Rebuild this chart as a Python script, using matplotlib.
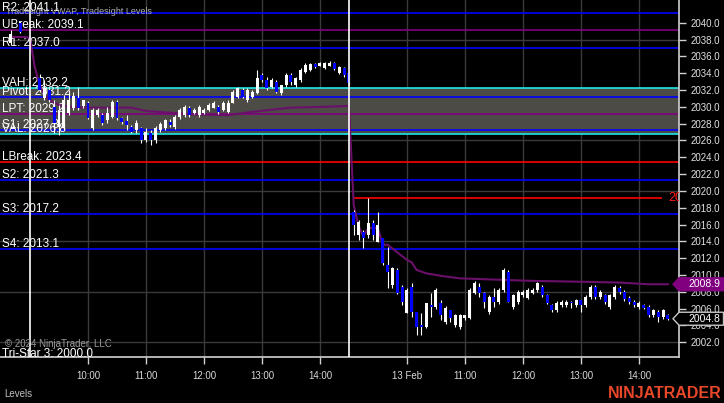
import matplotlib
matplotlib.use("Agg")
import matplotlib.pyplot as plt
import matplotlib.transforms as mtransforms
from matplotlib.patches import Polygon

plt.rcParams['font.family'] = ['Liberation Sans', 'DejaVu Sans']

# ---------------- data (5-minute bars, x = bar index) ----------------
day1_index = [2, 4] + list(range(8, 73))
day1_open = [2037.6, 2040.0,
             2033.4, 2031.0, 2032.0, 2030.0, 2027.6, 2027.6, 2029.3, 2029.9, 2031.0, 2030.1,
             2030.5, 2027.5, 2029.0, 2029.0, 2028.4, 2028.8, 2030.6, 2028.7, 2028.3, 2027.6,
             2027.2, 2027.5, 2026.0, 2026.9, 2026.0, 2027.2, 2027.5, 2028.2, 2027.6, 2028.8,
             2029.0, 2029.9, 2029.3, 2029.0, 2029.3, 2029.6, 2029.9, 2030.0, 2029.6, 2029.4,
             2030.5, 2031.2, 2032.0, 2030.8, 2031.2, 2031.6, 2033.8, 2033.2, 2032.4, 2033.0,
             2031.6, 2032.6, 2033.8, 2032.6, 2033.2, 2034.1, 2034.4, 2035.1, 2034.9, 2034.6,
             2034.9, 2035.2, 2034.0, 2034.6, 2034.0]
day1_high = [2039.1, 2040.2,
             2033.9, 2033.2, 2032.2, 2030.8, 2030.2, 2031.4, 2032.0, 2031.8, 2032.4, 2030.8,
             2030.7, 2029.9, 2029.8, 2029.3, 2030.0, 2030.8, 2030.8, 2028.8, 2029.0, 2027.8,
             2028.4, 2027.6, 2027.5, 2027.2, 2027.7, 2028.2, 2028.6, 2028.5, 2029.0, 2029.9,
             2030.2, 2030.1, 2029.9, 2030.2, 2029.8, 2030.4, 2030.7, 2030.2, 2030.7, 2030.8,
             2032.0, 2032.4, 2032.2, 2032.2, 2032.0, 2034.4, 2034.0, 2033.5, 2033.4, 2033.2,
             2032.6, 2034.0, 2034.0, 2033.6, 2034.6, 2035.2, 2035.2, 2035.2, 2035.3, 2035.3,
             2035.4, 2035.3, 2034.8, 2034.7, 2034.1]
day1_low = [2037.3, 2038.8,
            2031.8, 2030.8, 2030.6, 2026.9, 2026.6, 2027.2, 2029.0, 2029.6, 2029.6, 2029.9,
            2028.5, 2027.2, 2028.8, 2027.8, 2028.1, 2028.7, 2028.4, 2028.0, 2027.2, 2026.9,
            2026.9, 2025.7, 2025.8, 2025.5, 2025.7, 2027.0, 2027.3, 2027.6, 2027.4, 2028.6,
            2028.8, 2028.8, 2029.1, 2028.8, 2029.2, 2029.5, 2029.8, 2029.2, 2029.5, 2029.3,
            2030.4, 2031.0, 2031.0, 2030.6, 2031.0, 2031.5, 2033.0, 2032.0, 2032.2, 2031.6,
            2031.4, 2032.4, 2032.6, 2032.4, 2033.0, 2034.0, 2034.2, 2034.6, 2034.8, 2034.5,
            2034.8, 2034.4, 2033.9, 2033.6, 2032.6]
day1_close = [2038.6, 2038.9,
              2032.0, 2032.2, 2030.8, 2028.1, 2029.6, 2030.8, 2030.8, 2031.3, 2029.9, 2030.8,
              2028.7, 2029.6, 2029.6, 2028.1, 2029.3, 2030.6, 2028.7, 2028.2, 2027.8, 2027.0,
              2028.1, 2026.0, 2027.0, 2026.0, 2027.5, 2027.9, 2028.4, 2027.8, 2028.8, 2029.6,
              2030.0, 2029.0, 2029.6, 2030.0, 2029.6, 2030.2, 2030.5, 2029.4, 2030.5, 2030.5,
              2031.8, 2032.2, 2031.2, 2032.0, 2031.8, 2033.4, 2033.2, 2032.2, 2033.2, 2031.8,
              2032.6, 2033.8, 2033.0, 2033.4, 2034.4, 2035.0, 2035.1, 2034.7, 2035.2, 2035.2,
              2035.2, 2034.5, 2034.7, 2033.8, 2032.8]

day2_index = list(range(73, 139))
day2_open = [2017.5, 2014.8, 2015.1, 2014.8, 2016.2, 2013.9, 2014.4, 2011.2, 2008.8, 2010.6,
             2008.6, 2005.5, 2008.6, 2005.6, 2004.1, 2003.8, 2006.4, 2006.2, 2006.7, 2004.4,
             2005.8, 2004.1, 2003.8, 2004.9, 2004.9, 2007.9, 2008.6, 2007.9, 2005.6, 2007.4,
             2006.8, 2008.2, 2010.4, 2006.2, 2006.8, 2007.6, 2007.3, 2007.9, 2008.2, 2008.6,
             2007.6, 2006.4, 2005.8, 2006.4, 2006.4, 2006.8, 2006.4, 2007.0, 2006.4, 2007.4,
             2008.6, 2007.4, 2007.6, 2006.2, 2007.4, 2008.5, 2008.0, 2007.3, 2006.8, 2006.2,
             2006.4, 2006.2, 2005.2, 2005.6, 2005.0, 2005.2]
day2_high = [2017.7, 2016.5, 2015.4, 2019.1, 2016.5, 2017.5, 2014.4, 2013.3, 2011.0, 2010.8,
             2008.8, 2008.5, 2009.0, 2005.6, 2005.5, 2006.7, 2007.9, 2008.4, 2007.0, 2006.3,
             2005.8, 2005.4, 2005.4, 2005.3, 2008.4, 2009.3, 2009.0, 2008.0, 2007.6, 2008.5,
             2008.4, 2010.8, 2010.6, 2007.8, 2008.2, 2008.2, 2008.4, 2008.4, 2009.2, 2008.8,
             2007.8, 2006.6, 2006.9, 2007.0, 2007.0, 2006.9, 2007.2, 2007.0, 2007.6, 2008.8,
             2008.8, 2008.2, 2007.8, 2007.8, 2008.8, 2008.7, 2008.2, 2007.5, 2007.0, 2006.9,
             2006.6, 2006.4, 2006.0, 2005.8, 2006.0, 2005.4]
day2_low = [2014.8, 2014.2, 2013.2, 2014.4, 2014.2, 2013.9, 2011.2, 2008.5, 2008.5, 2007.7,
            2006.4, 2005.5, 2005.0, 2002.9, 2002.9, 2003.7, 2005.0, 2006.0, 2004.6, 2004.2,
            2004.4, 2003.8, 2003.6, 2004.6, 2004.8, 2007.7, 2007.4, 2006.1, 2005.4, 2006.2,
            2006.6, 2008.0, 2006.8, 2006.0, 2006.6, 2007.4, 2007.1, 2007.7, 2008.0, 2007.4,
            2006.5, 2005.6, 2005.6, 2006.2, 2006.2, 2006.1, 2006.2, 2005.6, 2006.2, 2007.2,
            2007.2, 2007.2, 2006.6, 2006.0, 2007.2, 2007.8, 2006.9, 2006.6, 2006.2, 2006.0,
            2005.9, 2005.0, 2005.0, 2004.4, 2004.8, 2004.6]
day2_close = [2016.0, 2016.3, 2014.4, 2016.2, 2014.8, 2016.0, 2011.4, 2010.4, 2010.8, 2007.9,
              2006.8, 2008.2, 2005.6, 2003.8, 2003.8, 2006.7, 2006.2, 2008.2, 2005.2, 2006.1,
              2004.9, 2005.2, 2005.2, 2005.2, 2008.2, 2009.0, 2007.9, 2006.8, 2007.4, 2006.8,
              2008.2, 2010.6, 2006.8, 2007.6, 2008.0, 2008.0, 2008.2, 2008.2, 2009.0, 2007.6,
              2006.7, 2005.8, 2006.7, 2006.8, 2006.8, 2006.7, 2007.0, 2006.4, 2007.4, 2008.6,
              2007.4, 2008.0, 2006.8, 2007.6, 2008.6, 2008.0, 2007.1, 2006.8, 2006.4, 2006.7,
              2006.1, 2005.2, 2005.8, 2005.0, 2005.8, 2004.8]

vwap_index = [2, 5, 6, 7, 8, 9, 10, 12, 14, 18, 27, 30, 35, 40, 47, 52, 60, 67, 72,
              73, 74, 75, 76, 78, 79, 80, 82, 84, 85, 86, 88, 91, 95, 100, 110, 120, 128, 134, 138]
vwap_value = [2038.3, 2038.3, 2038.2, 2034.7, 2032.6, 2031.4, 2030.8, 2030.2, 2030.0, 2029.9,
              2029.9, 2029.5, 2029.3, 2029.1, 2029.0, 2029.4, 2029.9, 2030.0, 2030.1,
              2018.3, 2015.8, 2014.6, 2015.6, 2015.6, 2013.6, 2013.6, 2012.7, 2011.8, 2011.5,
              2010.6, 2010.2, 2009.9, 2009.6, 2009.5, 2009.3, 2009.2, 2009.1, 2008.9, 2008.9]

level_names = ["R2", "UBreak", "R1", "VAH", "Pivot", "LPT", "S1", "VAL",
               "LBreak", "S2", "S3", "S4", "Tri-Star 3"]
level_values = [2041.1, 2039.1, 2037.0, 2032.2, 2031.2, 2029.2, 2027.3, 2026.8,
                2023.4, 2021.3, 2017.2, 2013.1, 2000.0]
level_kind = ["blue", "purple", "blue", "cyan", "blue", "purple", "blue", "cyan",
              "red", "blue", "blue", "blue", "white"]

day2_high_level = 2019.1

session_start_index = [6, 72]
bars_per_hour = 12
session_open_hour = 9
tick_session = [0, 0, 0, 0, 0, 1, 1, 1, 1, 1]
tick_hour = [10, 11, 12, 13, 14, 10, 11, 12, 13, 14]
tick_labels = ["10:00", "11:00", "12:00", "13:00", "14:00",
               "13 Feb", "11:00", "12:00", "13:00", "14:00"]
price_ticks = list(range(2002, 2041, 2))
grid_prices = list(range(2002, 2041, 6))

# ---------------- style ----------------
COL = {"blue": "#0000ff", "purple": "#800080", "cyan": "#1de9e9",
       "red": "#ff0000", "white": "#ffffff"}
VA_FILL = "#4c4b45"
GRID = "#3a3a3a"
AXIS = "#d0d0d0"

W, H = 724, 403
PLOT_R, PLOT_B = 679, 357
fig = plt.figure(figsize=(W / 100, H / 100), dpi=100, facecolor="black")
ax = fig.add_axes([0, (H - PLOT_B) / H, PLOT_R / W, PLOT_B / H])
ax.set_facecolor("black")
ax.set_xlim(-0.2, 140.3)
ax.set_ylim(2000.25, 2042.7)

tick_index = [session_start_index[s] + (h - session_open_hour) * bars_per_hour
              for s, h in zip(tick_session, tick_hour)]

# grid
for g in grid_prices:
    ax.axhline(g, color=GRID, lw=1.0, zorder=1)
for t in tick_index:
    ax.axvline(t, color=GRID, lw=1.0, zorder=1)

# value area
vah = level_values[level_names.index("VAH")]
val = level_values[level_names.index("VAL")]
ax.axhspan(val, vah, color=VA_FILL, lw=0, zorder=1.5)

# level lines and labels
lab_tr = mtransforms.offset_copy(ax.get_yaxis_transform(), fig=fig, x=2, y=2, units="dots")
for name, v, k in zip(level_names, level_values, level_kind):
    if k != "white":
        ax.axhline(v, color=COL[k], lw=1.2, zorder=2)
    ax.text(0, v, f"{name}: {v:.1f}", transform=lab_tr, color="white", fontsize=8.5,
            ha="left", va="baseline", zorder=3, clip_on=True)

# day-2 high line with clipped label
ax.hlines(day2_high_level, day2_index[0] - 0.2, day2_index[-1] - 1.2, color="#ff0000", lw=1.2, zorder=2)
ax.text(day2_index[-1], day2_high_level, f"{day2_high_level:.1f}", color="#ff1a1a", fontsize=9,
        ha="left", va="center", clip_on=True, zorder=3)

# session break lines
for s in session_start_index:
    ax.axvline(s, color="white", lw=1.2, zorder=6)

# VWAP
ax.plot(vwap_index, vwap_value, color="#6a106a", lw=1.5, zorder=3.5)


def candles(idx, o, h, l, c):
    ax.vlines(idx, l, h, color="white", lw=0.8, zorder=4)
    bottoms = [min(a, b) for a, b in zip(o, c)]
    heights = [max(abs(b - a), 0.12) for a, b in zip(o, c)]
    colors = ["white" if b >= a else "#0000ff" for a, b in zip(o, c)]
    ax.bar(idx, heights, bottom=bottoms, width=0.6, color=colors, lw=0, zorder=5)


candles(day1_index, day1_open, day1_high, day1_low, day1_close)
candles(day2_index, day2_open, day2_high, day2_low, day2_close)

# axes styling
for sp in ["top", "left"]:
    ax.spines[sp].set_visible(False)
for sp in ["bottom", "right"]:
    ax.spines[sp].set_color(AXIS)
    ax.spines[sp].set_linewidth(1.2)
ax.yaxis.tick_right()
ax.set_yticks(price_ticks)
ax.set_yticklabels([f"{p:.1f}" for p in price_ticks])
ax.tick_params(axis="y", direction="out", length=5, width=1, color=AXIS,
               labelcolor="#e0e0e0", labelsize=7, pad=3)
ax.set_xticks(tick_index)
ax.set_xticklabels(tick_labels)
ax.tick_params(axis="x", direction="out", length=5, width=1, color=AXIS,
               labelcolor="#d8d8d8", labelsize=7, pad=5)


# right-side price markers
def marker(value, face, edge, text_color):
    fig.canvas.draw()
    yd = ax.transData.transform((0, value))[1]
    hh = 6.5
    pts = [(673, yd), (679, yd + hh), (723.5, yd + hh), (723.5, yd - hh), (679, yd - hh)]
    poly = Polygon(pts, closed=True, facecolor=face, edgecolor=edge, lw=1.0,
                   transform=None, zorder=20, clip_on=False)
    fig.add_artist(poly)
    fig.text(688 / W, yd / H, f"{value:.1f}", color=text_color, fontsize=7.5,
             ha="left", va="center", zorder=21)


marker(vwap_value[-1], "#800080", "#800080", "white")
marker(day2_close[-1], "black", "#c8c8c8", "white")

# misc text
fig.text(6 / W, 1 - 11 / H, "Tradesight VWAP, Tradesight Levels", color="#b0b0b0",
         fontsize=6.5, ha="left", va="center")
fig.text(5 / W, 1 - 344 / H, "\u00a9 2024 NinjaTrader, LLC", color="#9a9a9a",
         fontsize=7, ha="left", va="center")
fig.text(4 / W, 1 - 394 / H, "Levels", color="#c0c0c0", fontsize=7, ha="left", va="center")
fig.text(722 / W, 1 - 393 / H, "NINJATRADER", color="#e8472a", fontsize=11.5,
         fontweight="bold", ha="right", va="center")

fig.savefig("out.png", dpi=100, facecolor="black")
